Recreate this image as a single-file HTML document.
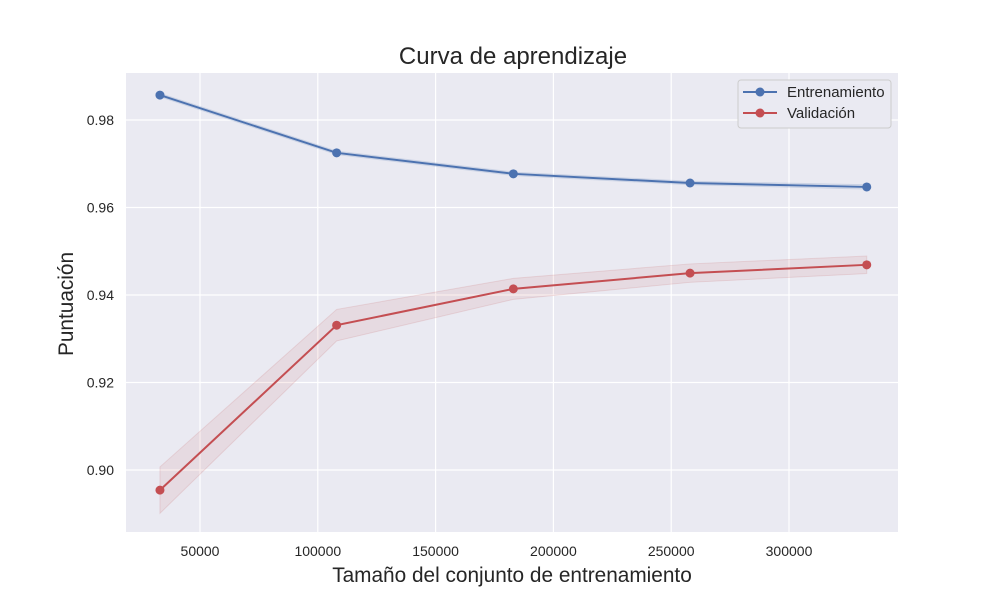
<!DOCTYPE html>
<html><head><meta charset="utf-8"><style>
body{margin:0;background:#fff;font-family:"Liberation Sans","DejaVu Sans",sans-serif;}
</style></head><body>
<svg id="chart" width="1000" height="600" xmlns="http://www.w3.org/2000/svg" font-family="Liberation Sans, DejaVu Sans, sans-serif">
<rect width="1000" height="600" fill="#fff"/>
<rect x="126" y="73" width="772" height="459" fill="#eaeaf2"/>
<g id="grid"></g><g id="bands"></g><g id="lines"></g><g id="ticks"></g>
<text x="513" y="64" text-anchor="middle" font-size="24" fill="#262626">Curva de aprendizaje</text>
<text x="512" y="582" text-anchor="middle" font-size="20.8" fill="#262626">Tamaño del conjunto de entrenamiento</text>
<text transform="translate(73,304) rotate(-90)" text-anchor="middle" font-size="20.8" fill="#262626">Puntuación</text>
<g>
<rect x="738" y="80" width="153" height="48" rx="3" fill="#eaeaf2" stroke="#cccccc" stroke-width="1"/>
<line x1="743" y1="92" x2="777" y2="92" stroke="#4c72b0" stroke-width="2"/><circle cx="760" cy="92" r="4.5" fill="#4c72b0"/>
<text x="787" y="97" font-size="15" fill="#262626">Entrenamiento</text>
<line x1="743" y1="113" x2="777" y2="113" stroke="#c44e52" stroke-width="2"/><circle cx="760" cy="113" r="4.5" fill="#c44e52"/>
<text x="787" y="118" font-size="15" fill="#262626">Validación</text>
</g>
</svg>
<script>
const sizes=[33000,108000,183000,258000,333000];
const trainMean=[0.9857,0.9725,0.9677,0.9656,0.9647];
const trainStd=[0.0004,0.0004,0.0004,0.0004,0.0005];
const valMean=[0.8954,0.9331,0.9414,0.9450,0.9469];
const valStd=[0.0053,0.0036,0.0024,0.0021,0.0020];
const xTicks=[50000,100000,150000,200000,250000,300000];
const yTicks=[0.90,0.92,0.94,0.96,0.98];
const NS="http://www.w3.org/2000/svg";
const X=v=>200+(v-50000)*(117.8/50000);
const Y=v=>120+(0.98-v)*(87.5/0.02);
function mk(t,a,p){const e=document.createElementNS(NS,t);for(const k in a)e.setAttribute(k,a[k]);document.getElementById(p).appendChild(e);return e;}
xTicks.forEach(t=>{
 const l=mk('line',{x1:X(t),x2:X(t),y1:73,y2:532,stroke:'#fff','stroke-width':1.2},'grid');
 
 
 const s=mk('text',{x:X(t),y:556,'text-anchor':'middle','font-size':14,fill:'#262626'},'ticks');s.textContent=t;
 
 
});
yTicks.forEach(t=>{
 const l=mk('line',{x1:126,x2:898,y1:Y(t),y2:Y(t),stroke:'#fff','stroke-width':1.2},'grid');
 
 
 const s=mk('text',{x:114,y:Y(t)+5,'text-anchor':'end','font-size':14,fill:'#262626'},'ticks');s.textContent=t.toFixed(2);
 
 
});
function series(m,sd,col,name){
 const up=sizes.map((s,i)=>X(s)+','+Y(m[i]+sd[i]));
 const dn=sizes.map((s,i)=>X(s)+','+Y(m[i]-sd[i])).reverse();
 const b=mk('polygon',{points:up.concat(dn).join(' '),fill:col,'fill-opacity':0.1,stroke:col,'stroke-opacity':0.15},'bands');
 
 
 const l=mk('polyline',{points:sizes.map((s,i)=>X(s)+','+Y(m[i])).join(' '),fill:'none',stroke:col,'stroke-width':2},'lines');
 
 
 sizes.forEach((s,i)=>{const c=mk('circle',{cx:X(s),cy:Y(m[i]),r:4.5,fill:col},'lines');
 
 });
}
series(trainMean,trainStd,'#4c72b0','train');
series(valMean,valStd,'#c44e52','validation');
</script>
</body></html>
